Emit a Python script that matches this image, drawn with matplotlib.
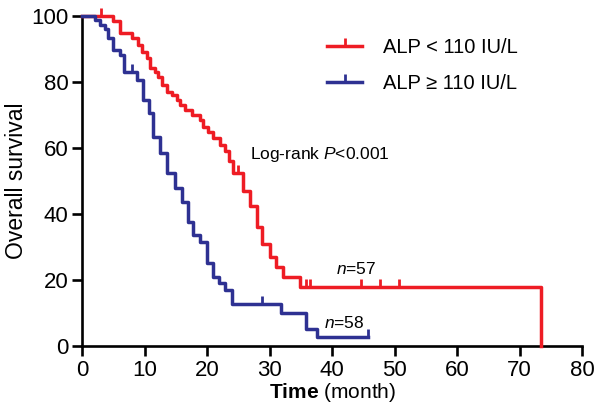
import matplotlib
matplotlib.use("Agg")
import matplotlib.pyplot as plt
from matplotlib.lines import Line2D

plt.rcParams['font.family'] = ['Liberation Sans', 'DejaVu Sans']
plt.rcParams['mathtext.fontset'] = 'custom'
plt.rcParams['mathtext.rm'] = 'Liberation Sans'
plt.rcParams['mathtext.it'] = 'Liberation Sans:italic'
plt.rcParams['mathtext.bf'] = 'Liberation Sans:bold'

# Kaplan-Meier steps
low_t = [0, 5.0, 6.0, 8.0, 8.9, 9.65, 10.35, 10.9, 11.7, 12.2, 12.75, 13.55, 14.35,
         15.15, 15.7, 16.5, 17.55, 18.9, 19.4, 20.2, 21.0, 22.0, 22.9, 23.5, 24.2,
         25.8, 26.9, 27.9, 28.7, 30.0, 31.1, 32.2, 34.9, 73.5]
low_s = [100, 98.5, 94.7, 93.2, 91.2, 89.2, 87.2, 84.1, 83.1, 81.6, 79.1, 77.1, 76.1,
         74.5, 73.0, 71.5, 70.0, 68.5, 66.5, 65.0, 63.0, 61.0, 59.0, 56.0, 52.5,
         47.0, 42.5, 36.0, 31.0, 27.0, 24.0, 21.0, 17.8, 0]
low_cens_t = [3.0, 24.9, 35.8, 36.5, 44.7, 47.7, 50.7]
low_cens_s = [100, 52.5, 17.8, 17.8, 17.8, 17.8, 17.8]

high_t = [0, 2.1, 2.9, 3.7, 4.2, 5.0, 6.0, 6.7, 8.75, 9.7, 10.7, 11.4, 12.4, 13.6,
          14.9, 16.0, 17.0, 17.8, 18.9, 19.95, 20.9, 21.9, 22.9, 23.95, 31.8, 35.8,
          37.6, 45.8]
high_s = [100, 98.8, 97.3, 96.0, 93.2, 89.7, 88.2, 83.1, 80.6, 74.5, 70.5, 63.4, 58.4,
          52.3, 48.0, 43.7, 37.7, 33.5, 31.6, 25.3, 21.0, 19.0, 17.0, 12.7, 10.1, 5.2,
          2.6, 2.6]
high_cens_t = [7.9, 28.8, 45.8]
high_cens_s = [83.1, 12.7, 2.6]

red = '#ee1c24'
blue = '#2e3192'

# upward censor tick
tick = [(0, 0), (0, 1)]

fig = plt.figure(figsize=(6, 4.2), dpi=100)
ax = fig.add_axes([0.137, 0.176, 0.833, 0.786])

ax.step(low_t, low_s, where='post', color=red, lw=2.5, clip_on=False, zorder=3)
ax.plot(low_cens_t, low_cens_s, ls='none', marker=tick, ms=12, mew=2,
        mec=red, mfc='none', clip_on=False, zorder=3)
ax.step(high_t, high_s, where='post', color=blue, lw=2.5, clip_on=False, zorder=4)
ax.plot(high_cens_t, high_cens_s, ls='none', marker=tick, ms=12, mew=2,
        mec=blue, mfc='none', clip_on=False, zorder=4)

ax.set_xlim(0, 80)
ax.set_ylim(0, 100)
ax.set_xticks(range(0, 81, 10))
ax.set_yticks(range(0, 101, 20))
for side in ['top', 'right']:
    ax.spines[side].set_visible(False)
for side in ['left', 'bottom']:
    ax.spines[side].set_linewidth(1.9)
ax.tick_params(length=7, width=1.9, labelsize=16, pad=3)

ax.set_xlabel(r'$\mathbf{Time}$ (month)', fontsize=15, labelpad=0)
ax.set_ylabel('Overall survival', fontsize=16.5, labelpad=2)

handles = [Line2D([], [], color=red, lw=2.5, marker=tick, ms=12, mew=2, mfc='none'),
           Line2D([], [], color=blue, lw=2.5, marker=tick, ms=12, mew=2, mfc='none')]
ax.legend(handles, ['ALP < 110 IU/L', 'ALP \u2265 110 IU/L'], loc='upper left',
          bbox_to_anchor=(0.47, 0.965), frameon=False, fontsize=14.5,
          handlelength=1.75, handletextpad=1.0, labelspacing=0.85, borderpad=0)

ax.text(26.9, 58, r'Log-rank $\mathit{P}$<0.001', fontsize=12.5, va='center')
ax.text(40.6, 23.3, r'$\mathit{n}$=57', fontsize=12.5, va='center')
ax.text(38.7, 7.0, r'$\mathit{n}$=58', fontsize=12.5, va='center')

fig.savefig('out.png', dpi=100)
